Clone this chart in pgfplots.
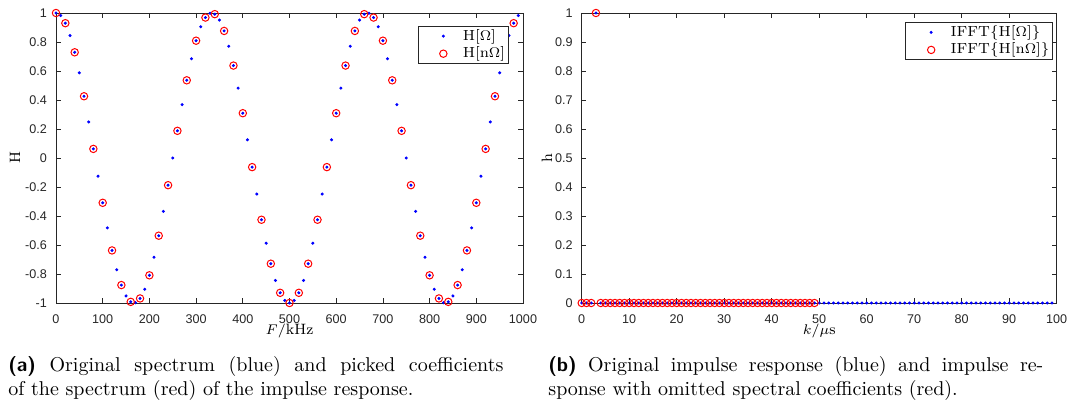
\documentclass[border=0pt]{standalone}
\usepackage{fontspec}
\usepackage{pgfplots}
\usepackage{pgfplotstable}
\pgfplotsset{compat=1.18}
\newfontfamily\ticksf{Liberation Sans}
\definecolor{axgray}{rgb}{0.15,0.15,0.15}
\definecolor{mblue}{rgb}{0,0,1}
\definecolor{mred}{rgb}{1,0,0}

\pgfplotstableread{
F H
0 1
10 0.9823
20 0.9298
30 0.8443
40 0.7290
50 0.5878
60 0.4258
70 0.2487
80 0.0628
90 -0.1253
100 -0.3090
110 -0.4818
120 -0.6374
130 -0.7705
140 -0.8763
150 -0.9511
160 -0.9921
170 -0.9980
180 -0.9686
190 -0.9048
200 -0.8090
210 -0.6845
220 -0.5358
230 -0.3681
240 -0.1874
250 0
260 0.1874
270 0.3681
280 0.5358
290 0.6845
300 0.8090
310 0.9048
320 0.9686
330 0.9980
340 0.9921
350 0.9511
360 0.8763
370 0.7705
380 0.6374
390 0.4818
400 0.3090
410 0.1253
420 -0.0628
430 -0.2487
440 -0.4258
450 -0.5878
460 -0.7290
470 -0.8443
480 -0.9298
490 -0.9823
500 -1
510 -0.9823
520 -0.9298
530 -0.8443
540 -0.7290
550 -0.5878
560 -0.4258
570 -0.2487
580 -0.0628
590 0.1253
600 0.3090
610 0.4818
620 0.6374
630 0.7705
640 0.8763
650 0.9511
660 0.9921
670 0.9980
680 0.9686
690 0.9048
700 0.8090
710 0.6845
720 0.5358
730 0.3681
740 0.1874
750 0
760 -0.1874
770 -0.3681
780 -0.5358
790 -0.6845
800 -0.8090
810 -0.9048
820 -0.9686
830 -0.9980
840 -0.9921
850 -0.9511
860 -0.8763
870 -0.7705
880 -0.6374
890 -0.4818
900 -0.3090
910 -0.1253
920 0.0628
930 0.2487
940 0.4258
950 0.5878
960 0.7290
970 0.8443
980 0.9298
990 0.9823
}\specblue

\pgfplotstableread{
F H
0 1
20 0.9298
40 0.7290
60 0.4258
80 0.0628
100 -0.3090
120 -0.6374
140 -0.8763
160 -0.9921
180 -0.9686
200 -0.8090
220 -0.5358
240 -0.1874
260 0.1874
280 0.5358
300 0.8090
320 0.9686
340 0.9921
360 0.8763
380 0.6374
400 0.3090
420 -0.0628
440 -0.4258
460 -0.7290
480 -0.9298
500 -1
520 -0.9298
540 -0.7290
560 -0.4258
580 -0.0628
600 0.3090
620 0.6374
640 0.8763
660 0.9921
680 0.9686
700 0.8090
720 0.5358
740 0.1874
760 -0.1874
780 -0.5358
800 -0.8090
820 -0.9686
840 -0.9921
860 -0.8763
880 -0.6374
900 -0.3090
920 0.0628
940 0.4258
960 0.7290
980 0.9298
}\specred

\pgfplotstableread{
k h
0 0
1 0
2 0
3 1
4 0
5 0
6 0
7 0
8 0
9 0
10 0
11 0
12 0
13 0
14 0
15 0
16 0
17 0
18 0
19 0
20 0
21 0
22 0
23 0
24 0
25 0
26 0
27 0
28 0
29 0
30 0
31 0
32 0
33 0
34 0
35 0
36 0
37 0
38 0
39 0
40 0
41 0
42 0
43 0
44 0
45 0
46 0
47 0
48 0
49 0
50 0
51 0
52 0
53 0
54 0
55 0
56 0
57 0
58 0
59 0
60 0
61 0
62 0
63 0
64 0
65 0
66 0
67 0
68 0
69 0
70 0
71 0
72 0
73 0
74 0
75 0
76 0
77 0
78 0
79 0
80 0
81 0
82 0
83 0
84 0
85 0
86 0
87 0
88 0
89 0
90 0
91 0
92 0
93 0
94 0
95 0
96 0
97 0
98 0
99 0
}\impblue

\pgfplotstableread{
k h
0 0
1 0
2 0
3 1
4 0
5 0
6 0
7 0
8 0
9 0
10 0
11 0
12 0
13 0
14 0
15 0
16 0
17 0
18 0
19 0
20 0
21 0
22 0
23 0
24 0
25 0
26 0
27 0
28 0
29 0
30 0
31 0
32 0
33 0
34 0
35 0
36 0
37 0
38 0
39 0
40 0
41 0
42 0
43 0
44 0
45 0
46 0
47 0
48 0
49 0
}\impred

\pgfplotsset{
  mlab/.style={
    scale only axis,
    clip=false,
    axis line style={axgray, line width=0.4pt},
    every tick/.style={axgray, line width=0.4pt},
    tick align=inside,
    major tick length=2.3pt,
    /pgf/number format/assume math mode=true,
    /pgf/number format/1000 sep={},
    ticklabel style={font=\ticksf\fontsize{6.3}{7}\selectfont, text=axgray},
    xticklabel style={yshift=-2.2pt},
    yticklabel style={xshift=-1pt},
    label style={font=\fontsize{7.5}{9}\selectfont},
    legend cell align=left,
    legend style={font=\fontsize{7.3}{9}\selectfont, draw=axgray, line width=0.4pt,
      inner sep=1pt, row sep=0.8pt, nodes={inner sep=0.5pt}},
  },
  bluedot/.style={only marks, mark=*, mark size=0.55pt, color=mblue,
    legend image code/.code={\path (0pt,-1pt) (20.5pt,1pt); \draw[##1] plot coordinates {(11.5pt,0pt)};}},
  redcirc/.style={only marks, mark=o, mark size=1.85pt, color=mred, mark options={line width=0.5pt},
    legend image code/.code={\path (0pt,-1pt) (20.5pt,1pt); \draw[##1] plot coordinates {(11.5pt,0pt)};}},
}

\begin{document}
\begin{tikzpicture}
\useasboundingbox (0,0) rectangle (533.5pt,203.5pt);

\begin{axis}[mlab,
  at={(28pt,52pt)}, anchor=south west,
  width=233.5pt, height=145pt,
  xmin=0, xmax=1000, ymin=-1, ymax=1,
  xtick={0,100,200,300,400,500,600,700,800,900,1000},
  ytick={-1,-0.8,-0.6,-0.4,-0.2,0,0.2,0.4,0.6,0.8,1},
  xlabel={$F/$kHz}, ylabel={H},
  xlabel style={at={(axis description cs:0.5,0)}, anchor=base, yshift=-16pt},
  ylabel style={at={(axis description cs:-0.0878,0.5)}, anchor=center},
  legend style={at={(axis description cs:0.969,0.956)}, anchor=north east},
]
\addplot[bluedot] table[x=F, y=H] {\specblue};
\addlegendentry{H[$\Omega$]}
\addplot[redcirc] table[x=F, y=H] {\specred};
\addlegendentry{H[n$\Omega$]}
\end{axis}

\begin{axis}[mlab,
  at={(290.85pt,52pt)}, anchor=south west,
  width=237.5pt, height=145pt,
  xmin=0, xmax=100, ymin=0, ymax=1,
  xtick={0,10,20,30,40,50,60,70,80,90,100},
  ytick={0,0.1,0.2,0.3,0.4,0.5,0.6,0.7,0.8,0.9,1},
  xlabel={$k/\mu$s}, ylabel={h},
  xlabel style={at={(axis description cs:0.5,0)}, anchor=base, yshift=-16pt},
  ylabel style={at={(axis description cs:-0.0731,0.5)}, anchor=center},
  legend style={at={(axis description cs:0.992,0.969)}, anchor=north east},
]
\addplot[bluedot] table[x=k, y=h] {\impblue};
\addlegendentry{IFFT\{H[$\Omega$]\}}
\addplot[redcirc] table[x=k, y=h] {\impred};
\addlegendentry{IFFT\{H[n$\Omega$]\}}
\end{axis}

\node[anchor=base west, inner sep=0pt] at (4pt,17.5pt) {\parbox[t]{247.5pt}{\fontsize{10}{12}\selectfont\textsf{\bfseries (a)} Original spectrum (blue) and picked coefficients\linebreak of the spectrum (red) of the impulse response.}};
\node[anchor=base west, inner sep=0pt] at (274pt,17.5pt) {\parbox[t]{247.5pt}{\fontsize{10}{12}\selectfont\textsf{\bfseries (b)} Original impulse response (blue) and impulse re-\linebreak sponse with omitted spectral coefficients (red).}};
\end{tikzpicture}
\end{document}
